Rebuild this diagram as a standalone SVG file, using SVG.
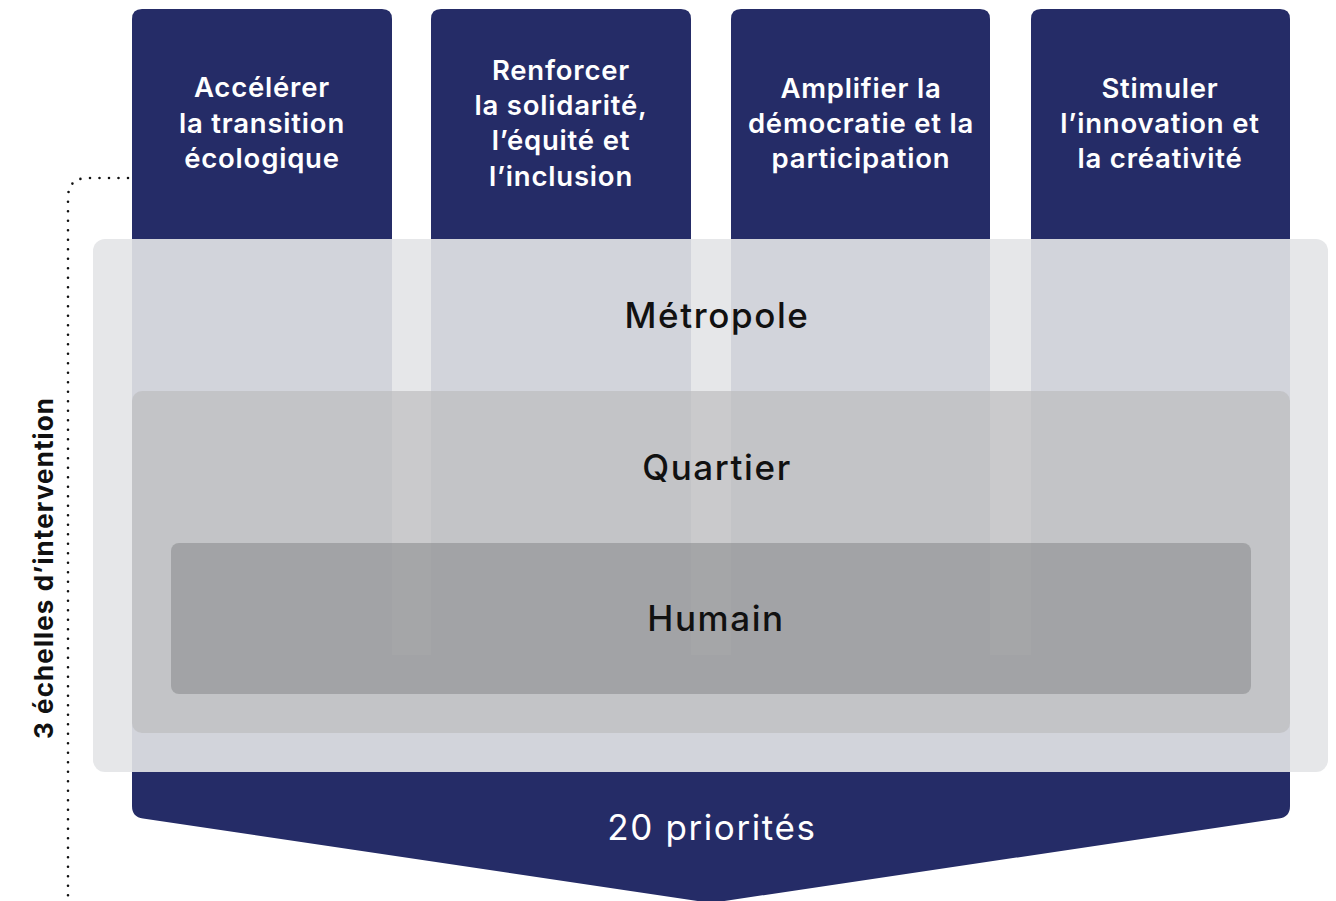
<svg xmlns="http://www.w3.org/2000/svg" width="1336" height="901" viewBox="0 0 1336 901">
  <style>
    .navy { fill: #252c67; }
    .head { font-family: Inter, "Liberation Sans", sans-serif; font-weight: 600; font-size: 27.5px; letter-spacing: 0.8px; fill: #ffffff; text-anchor: middle; }
    .lvl { font-family: Inter, "Liberation Sans", sans-serif; font-weight: 500; font-size: 35px; letter-spacing: 1.6px; fill: #111111; text-anchor: middle; }
    .side { font-family: Inter, "Liberation Sans", sans-serif; font-weight: 700; font-size: 26px; letter-spacing: 1.1px; fill: #111111; text-anchor: middle; }
    .bottom { font-family: Inter, "Liberation Sans", sans-serif; font-weight: 400; font-size: 35px; letter-spacing: 1.6px; fill: #ffffff; text-anchor: middle; }
  </style>
  <rect width="1336" height="901" fill="#ffffff"/>

  <g id="columns">
    <g id="col1">
      <path class="navy" d="M132,19 Q132,9 142,9 H382 Q392,9 392,19 V670 H132 Z"/>
    </g>
    <g id="col2">
      <path class="navy" d="M431,19 Q431,9 441,9 H681 Q691,9 691,19 V670 H431 Z"/>
    </g>
    <g id="col3">
      <path class="navy" d="M731,19 Q731,9 741,9 H980 Q990,9 990,19 V670 H731 Z"/>
    </g>
    <g id="col4">
      <path class="navy" d="M1031,19 Q1031,9 1041,9 H1280 Q1290,9 1290,19 V670 H1031 Z"/>
    </g>
  </g>

  <g id="priorites">
    <path class="navy" d="M132,655 H1290 V806 Q1290,817 1279,818.5 L711,903 L143,818.5 Q132,817 132,806 Z"/>
  </g>

  <g id="metropole">
    <rect x="93" y="239" width="1235" height="533" rx="12" fill="#e4e5e7" fill-opacity="0.91"/>
    <text class="lvl" x="717" y="328">Métropole</text>
  </g>
  <g id="quartier">
    <rect x="132" y="391" width="1158" height="342" rx="10" fill="#bcbcbe" fill-opacity="0.67"/>
    <text class="lvl" x="717" y="480">Quartier</text>
  </g>
  <g id="humain">
    <rect x="171" y="543" width="1080" height="151" rx="8" fill="#87888a" fill-opacity="0.55"/>
    <text class="lvl" x="716" y="631">Humain</text>
  </g>

  <g id="col-labels">
    <text class="head" x="262" y="97">Accélérer</text>
    <text class="head" x="262" y="133">la transition</text>
    <text class="head" x="262" y="168">écologique</text>

    <text class="head" x="561" y="80">Renforcer</text>
    <text class="head" x="561" y="115">la solidarité,</text>
    <text class="head" x="561" y="150">l’équité et</text>
    <text class="head" x="561" y="186">l’inclusion</text>

    <text class="head" x="861" y="98">Amplifier la</text>
    <text class="head" x="861" y="133">démocratie et la</text>
    <text class="head" x="861" y="168">participation</text>

    <text class="head" x="1160" y="98">Stimuler</text>
    <text class="head" x="1160" y="133">l’innovation et</text>
    <text class="head" x="1160" y="168">la créativité</text>
  </g>

  <text class="bottom" x="712" y="840">20 priorités</text>

  <g id="connectors">
    <path d="M128,178 H88 Q68,178 68,198 V901" fill="none" stroke="#111111" stroke-width="2.6" stroke-linecap="round" stroke-dasharray="0 9.5"/>
  </g>

  <g id="scale-label">
    <text class="side" transform="translate(53,568) rotate(-90)">3 échelles d’intervention</text>
  </g>
</svg>
